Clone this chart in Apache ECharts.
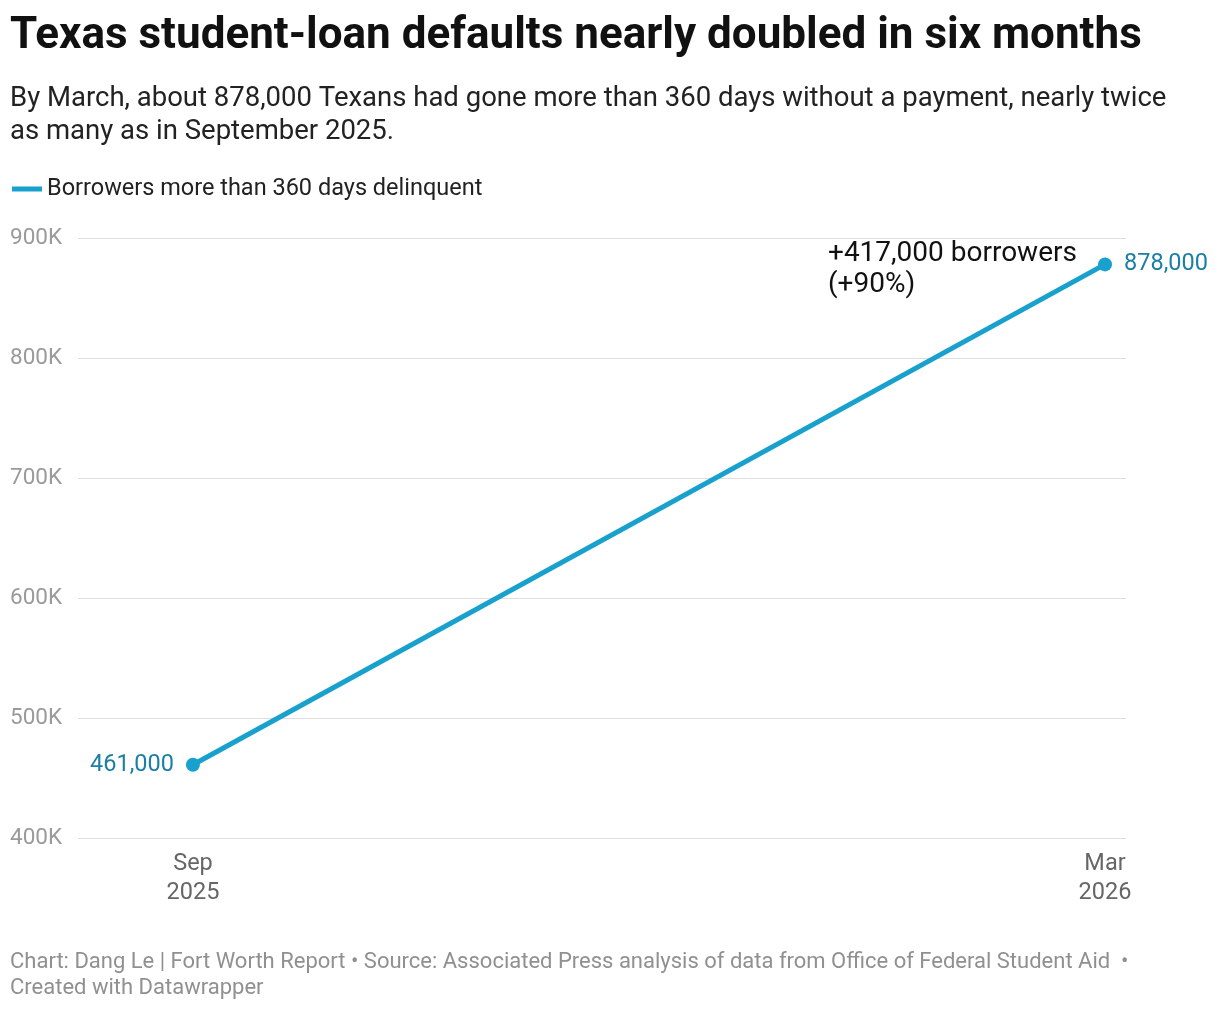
<!DOCTYPE html>
<html><head><meta charset="utf-8">
<script src="https://cdn.jsdelivr.net/npm/echarts@6/dist/echarts.min.js"></script>
<style>body{margin:0;background:#fff}#c{width:1220px;height:1010px}</style>
</head><body><div id="c"></div>
<script>
const categories = ['Sep\n2025', 'Mar\n2026'];
const values = [461000, 878000];
const valueLabels = ['461,000', '878,000'];
const yTicks = [400000, 500000, 600000, 700000, 800000, 900000];
const F = 'Roboto';
const chart = echarts.init(document.getElementById('c'));
chart.setOption({
  animation: false,
  textStyle: {fontFamily: F},
  title: [
    {text: 'Texas student-loan defaults nearly doubled in six months', left: 5, top: 10,
     textStyle: {fontFamily: F, fontSize: 44, fontWeight: 'bold', color: '#111'}},
    {text: 'By March, about 878,000 Texans had gone more than 360 days without a payment, nearly twice\nas many as in September 2025.', left: 5, top: 78,
     textStyle: {fontFamily: F, fontSize: 27.5, fontWeight: 'normal', color: '#222', lineHeight: 33}},
    {text: 'Chart: Dang Le | Fort Worth Report • Source: Associated Press analysis of data from Office of Federal Student Aid  •\nCreated with Datawrapper', left: 5, top: 944,
     textStyle: {fontFamily: F, fontSize: 22, fontWeight: 'normal', color: '#909090', lineHeight: 26}}
  ],
  legend: {left: 7, top: 172, itemWidth: 30, itemHeight: 5, itemGap: 6, icon: 'rect',
    textStyle: {fontFamily: F, fontSize: 23.5, color: '#222'},
    data: ['Borrowers more than 360 days delinquent']},
  grid: [
    {left: 78, right: 94, top: 238, bottom: 172},
    {left: 193, right: 115, top: 238, bottom: 172}
  ],
  xAxis: [
    {type: 'value', gridIndex: 0, min: -0.126, max: 1.023, show: false},
    {type: 'category', gridIndex: 1, data: categories, boundaryGap: false,
     axisLine: {show: false}, axisTick: {show: false},
     axisLabel: {fontFamily: F, fontSize: 23.5, color: '#666', lineHeight: 29, margin: 12}}
  ],
  yAxis: [
    {type: 'value', gridIndex: 0, min: 400000, max: 900000, interval: 100000,
     axisLine: {show: false}, axisTick: {show: false},
     splitLine: {lineStyle: {color: '#dddddd', width: 1}},
     axisLabel: {align: 'left', margin: 68, fontFamily: F, fontSize: 22.5, color: '#9a9a9a',
       formatter: v => yTicks.includes(v) ? (v/1000) + 'K' : ''}},
    {type: 'value', gridIndex: 1, min: 400000, max: 900000, show: false}
  ],
  series: [{
    name: 'Borrowers more than 360 days delinquent', type: 'line',
    xAxisIndex: 0, yAxisIndex: 0,
    data: values.map((v, i) => ({value: [i, v], label: {position: i === 0 ? 'left' : 'right'}})),
    symbol: 'circle', symbolSize: 14,
    lineStyle: {color: '#18a1cd', width: 5}, itemStyle: {color: '#18a1cd'},
    label: {show: true, fontFamily: F, fontSize: 23.5, color: '#1a7fa6', distance: 12,
      formatter: p => valueLabels[p.dataIndex]}
  }],
  graphic: [{type: 'text', left: 828, top: 238,
    style: {text: '+417,000 borrowers\n(+90%)', fontFamily: F, fontSize: 28, fill: '#111', lineHeight: 31}}]
});
</script></body></html>
